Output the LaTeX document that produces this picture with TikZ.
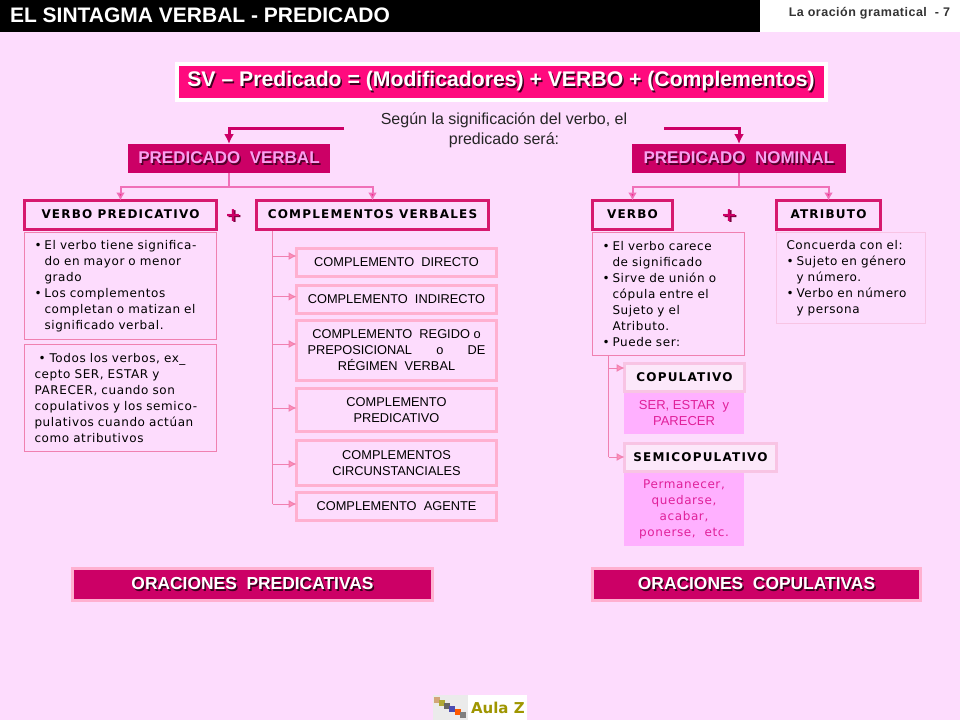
\documentclass[tikz,border=0pt]{standalone}
\usepackage{fontspec}
\setmainfont{Liberation Sans}
\newfontfamily\vd{DejaVu Sans}
\newfontfamily\vdk{DejaVu Sans}[LetterSpace=10]
\newfontfamily\vdn{DejaVu Sans}[LetterSpace=5,WordSpace=2]
\newfontfamily\lbk{Liberation Sans}[LetterSpace=4]
\usetikzlibrary{arrows.meta}
\definecolor{bgc}{HTML}{FDDCFD}
\definecolor{hot}{HTML}{FF0A7E}
\definecolor{mag}{HTML}{CC0066}
\definecolor{rimc}{HTML}{D6196E}
\definecolor{lnk}{HTML}{F070B8}
\definecolor{thin}{HTML}{F080B0}
\definecolor{thinhead}{HTML}{FF90B8}
\definecolor{arrh}{HTML}{F5208A}
\definecolor{pale}{HTML}{FFB0D0}
\definecolor{paler}{HTML}{F8C4E4}
\definecolor{subin}{HTML}{FCE8FA}
\definecolor{lilac}{HTML}{FFB0FF}
\definecolor{subt}{HTML}{E0209A}
\definecolor{hl}{HTML}{F9A0F0}
\newcommand\shd[3]{\makebox[0pt][l]{\raisebox{-1.5pt}{\hspace{1.5pt}\color{#1}#3}}{\color{#2}#3}}
\newcommand\bx[7]{\pgfmathsetmacro\ww{#4-#2}\pgfmathsetmacro\hh{#5-#3}%
  \node[#6,minimum width=\ww pt,minimum height=\hh pt] (#1) at ({(#2+#4)/2},{(#3+#5)/2}) {#7};}
\newcommand\bul{\makebox[10pt][l]{\textbullet}}
\newcommand\ind{\hspace*{10pt}}
\newcommand\up[1]{\raisebox{1.3pt}{#1}}
\tikzset{
  x=1pt,y=-1pt,
  every node/.style={inner sep=0pt,outer sep=0pt},
  head/.style={fill=mag},
  kbox/.style={draw=rimc,line width=3pt,align=center,font=\vdk\fontsize{12}{14}\selectfont\bfseries},
  note/.style={draw=thin,line width=1pt,align=left,font=\vdn\fontsize{12}{16}\selectfont},
  comp/.style={draw=pale,line width=3pt,align=center,font=\fontsize{12.8}{16}\selectfont},
  sub/.style={draw=paler,line width=3pt,fill=subin,align=center,font=\vdk\fontsize{12}{14}\selectfont\bfseries},
  subfill/.style={fill=lilac,align=center,text=subt},
  res/.style={draw=pale,line width=3pt,fill=mag,align=center,font=\fontsize{17.4}{18}\selectfont\bfseries},
  big/.style={-{Latex[length=10pt,width=10pt]},draw=mag,line width=3pt},
  tree/.style={draw=lnk,line width=2pt},
  treearr/.style={-{Latex[length=8pt,width=9pt,fill=arrh]},draw=lnk,line width=2pt},
  br/.style={-{Latex[length=8pt,width=8pt,fill=thinhead]},draw=thin,line width=1pt},
  mark plus/.style={font=\vd\fontsize{19}{20}\selectfont\bfseries},
}
\begin{document}
\begin{tikzpicture}
\useasboundingbox (0,0) rectangle (960,720);
\fill[bgc] (0,0) rectangle (960,720);
% header
\bx{hb}{0}{0}{760}{32}{fill=black}{}
\bx{hw}{760}{0}{960}{32}{fill=white}{}
\node[anchor=west,text=white,font=\fontsize{21}{22}\selectfont\bfseries] (ht) at (10,15) {EL SINTAGMA VERBAL - PREDICADO};
\node[anchor=east,text=black!80,font=\lbk\fontsize{12.5}{14}\selectfont\bfseries] (hp) at (950,13.5) {La oración gramatical\ \ - 7};
% formula
\bx{sv}{176.5}{64}{825.5}{100}{draw=white,line width=4pt,fill=hot,font=\fontsize{21.2}{24}\selectfont\bfseries}{\shd{black!70!mag}{white}{SV – Predicado = (Modificadores) + VERBO + (Complementos)}}
\node[align=center,text=black!85,font=\fontsize{16}{20}\selectfont] (se) at (504,130) {Según la significación del verbo, el\\predicado será:};
% main heads
\bx{pv}{128}{144}{330}{173}{head,font=\fontsize{17}{18}\selectfont\bfseries}{\shd{black!60!mag}{hl}{PREDICADO\ \ VERBAL}}
\bx{pn}{632}{144}{846}{173}{head,font=\fontsize{17}{18}\selectfont\bfseries}{\shd{black!60!mag}{hl}{PREDICADO\ \ NOMINAL}}
\coordinate (al) at (344,128);
\coordinate (ar) at (664,128);
\draw[big] (al) -| (pv.north);
\draw[big] (ar) -| (pn.north);
% key boxes
\bx{vp}{24.5}{200.5}{216.5}{229.5}{kbox}{\up{VERBO PREDICATIVO}}
\bx{cv}{256.5}{200.5}{488.5}{229.5}{kbox}{\up{COMPLEMENTOS VERBALES}}
\bx{vb}{592.5}{200.5}{672.5}{229.5}{kbox}{\up{VERBO}}
\bx{at}{776.5}{200.5}{880.5}{229.5}{kbox}{\up{ATRIBUTO}}
\coordinate (jl) at (229,187);
\coordinate (jr) at (739,187);
\draw[tree] (pv.south) -- (jl);
\draw[tree] (pn.south) -- (jr);
\draw[treearr] (jl) -| (vp.north);
\draw[treearr] (jl) -| (cv.north);
\draw[treearr] (jr) -| (vb.north);
\draw[treearr] (jr) -| (at.north);
\node[mark plus] (p1) at (233,216) {\shd{black!40!mag}{mag}{+}};
\node[mark plus] (p2) at (729,216) {\shd{black!40!mag}{mag}{+}};
% notes left
\bx{n1}{24.5}{232.5}{216.5}{339}{note,text width=172pt}{\bul El verbo tiene significa-\\\ind do en mayor o menor\\\ind grado\\\bul Los complementos\\\ind completan o matizan el\\\ind significado verbal.}
\bx{n2}{24.5}{344.5}{216.5}{451}{note,text width=172pt}{\ \textbullet\ Todos los verbos, ex\_\\cepto SER, ESTAR y\\PARECER, cuando son\\copulativos y los semico-\\pulativos cuando actúan\\como atributivos}
% complements
\bx{c1}{296.5}{248.5}{496.5}{276.5}{comp}{COMPLEMENTO\ \ DIRECTO}
\bx{c2}{296.5}{285.5}{496.5}{313.5}{comp}{COMPLEMENTO\ \ INDIRECTO}
\bx{c3}{296.5}{320.5}{496.5}{380.5}{comp}{COMPLEMENTO\ \ REGIDO o\\\makebox[178pt][s]{PREPOSICIONAL\hfil o\hfil DE}\\RÉGIMEN\ \ VERBAL}
\bx{c4}{296.5}{388.5}{496.5}{431.5}{comp}{COMPLEMENTO\\PREDICATIVO}
\bx{c5}{296.5}{440.5}{496.5}{485.5}{comp}{COMPLEMENTOS\\CIRCUNSTANCIALES}
\bx{c6}{296.5}{492.5}{496.5}{520.5}{comp}{COMPLEMENTO\ \ AGENTE}
\coordinate (t0) at (272.5,231);
\coordinate (t1) at (272.5,256);
\coordinate (t2) at (272.5,296.7);
\coordinate (t3) at (272.5,344);
\coordinate (t4) at (272.5,408);
\coordinate (t5) at (272.5,464);
\coordinate (t6) at (272.5,504);
\draw[draw=thin,line width=1pt] (t0) -- (t6);
\draw[br] (t1) -- (t1 -| c1.west);
\draw[br] (t2) -- (t2 -| c2.west);
\draw[br] (t3) -- (t3 -| c3.west);
\draw[br] (t4) -- (t4 -| c4.west);
\draw[br] (t5) -- (t5 -| c5.west);
\draw[br] (t6) -- (t6 -| c6.west);
% notes right
\bx{n3}{592.5}{232.5}{744.5}{355.5}{note,text width=132pt}{\bul El verbo carece\\\ind de significado\\\bul Sirve de unión o\\\ind cópula entre el\\\ind Sujeto y el\\\ind Atributo.\\\bul Puede ser:}
\bx{n4}{776.5}{232.5}{925.5}{323.5}{note,draw=paler,text width=129pt}{Concuerda con el:\\\bul Sujeto en género\\\ind y número.\\\bul Verbo en número\\\ind y persona}
% copulative
\bx{s1}{624.5}{363.5}{744.5}{391.5}{sub}{\up{COPULATIVO}}
\bx{f1}{624}{393}{744}{434}{subfill,font=\fontsize{13}{16}\selectfont}{SER, ESTAR\ \ y\\PARECER}
\bx{s2}{624.5}{443.5}{776.5}{471.5}{sub}{\up{SEMICOPULATIVO}}
\bx{f2}{624}{473}{744}{546}{subfill,font=\vdn\fontsize{12}{16}\selectfont}{Permanecer,\\quedarse,\\acabar,\\ponerse, etc.}
\coordinate (u0) at (608.5,355);
\coordinate (u1) at (608.5,368);
\coordinate (u2) at (608.5,457);
\draw[draw=thin,line width=1pt] (u0) -- (u2);
\draw[br] (u1) -- (u1 -| s1.west);
\draw[br] (u2) -- (u2 -| s2.west);
% results
\bx{r1}{72.5}{568.5}{432.5}{600.5}{res}{\up{\shd{black!70!mag}{white}{ORACIONES\ \ PREDICATIVAS}}}
\bx{r2}{592.5}{568.5}{920.5}{600.5}{res}{\up{\shd{black!70!mag}{white}{ORACIONES\ \ COPULATIVAS}}}
% logo
\fill[black!8] (433,695) rectangle (468,720);
\fill[white] (468,695) rectangle (527,720);
\foreach \xx/\yy/\cc in {437/700/brown!70!white,442/703/olive!70!white,447/706/black!60,452/709/blue!40!gray,458/712/orange!70!red,463/715/gray} {
  \fill[\cc] (\xx-3,\yy-3) rectangle (\xx+3,\yy+3);
}
\node[anchor=west,text=olive!85!yellow,font=\vd\fontsize{15}{16}\selectfont\bfseries] (lg) at (471,708) {Aula Z};
\end{tikzpicture}
\end{document}
